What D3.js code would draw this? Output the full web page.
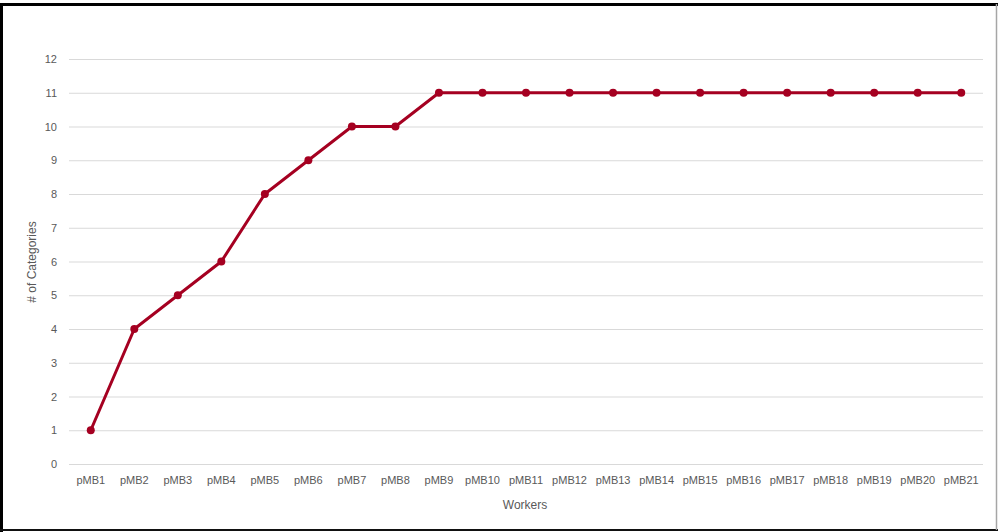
<!DOCTYPE html>
<html>
<head>
<meta charset="utf-8">
<script src="https://cdn.jsdelivr.net/npm/d3@7"></script>
<style>
  html, body { margin: 0; padding: 0; background: #fff; }
  svg { display: block; }
  text { font-family: "Liberation Sans", Arial, sans-serif; fill: #595959; }
</style>
</head>
<body>
<svg id="chart" width="998" height="532"></svg>
<script>
// Categories discovered per worker
const workers = ["pMB1","pMB2","pMB3","pMB4","pMB5","pMB6","pMB7","pMB8","pMB9","pMB10",
  "pMB11","pMB12","pMB13","pMB14","pMB15","pMB16","pMB17","pMB18","pMB19","pMB20","pMB21"];
const categoryCounts = [1,4,5,6,8,9,10,10,11,11,11,11,11,11,11,11,11,11,11,11,11];
const yTicks = [0,1,2,3,4,5,6,7,8,9,10,11,12];

const svg = d3.select("#chart");
const W = 998, H = 532;

// frame
svg.append("rect").attr("x", 0).attr("y", 0).attr("width", W).attr("height", H).attr("fill", "#fff");
svg.append("line").attr("x1", 0).attr("x2", W).attr("y1", 4.5).attr("y2", 4.5).attr("stroke", "#000").attr("stroke-width", 3);
svg.append("line").attr("x1", 1.5).attr("x2", 1.5).attr("y1", 3).attr("y2", H).attr("stroke", "#000").attr("stroke-width", 3);
svg.append("line").attr("x1", 0).attr("x2", W).attr("y1", 530).attr("y2", 530).attr("stroke", "#111").attr("stroke-width", 2);
svg.append("line").attr("x1", 996.5).attr("x2", 996.5).attr("y1", 4).attr("y2", 530).attr("stroke", "#a6a6a6").attr("stroke-width", 1.5);

const plotLeft = 69, plotRight = 983, plotTop = 59, plotBottom = 464;

const x = d3.scaleBand().domain(workers).range([plotLeft, plotRight]);
const y = d3.scaleLinear().domain([0, 12]).range([plotBottom, plotTop]);

// gridlines and y labels
const yAxis = d3.axisLeft(y).tickValues(yTicks).tickSize(-(plotRight - plotLeft)).tickPadding(12);
const gy = svg.append("g").attr("transform", `translate(${plotLeft},0)`).call(yAxis);
gy.select(".domain").remove();
gy.selectAll(".tick line").attr("stroke", "#d9d9d9").attr("stroke-width", 1);
gy.selectAll(".tick text").attr("font-size", 11).style("fill", "#595959")
  .attr("font-family", "Liberation Sans, Arial, sans-serif");

// x labels
const xAxis = d3.axisBottom(x).tickSize(0).tickPadding(12);
const gx = svg.append("g").attr("transform", `translate(0,${plotBottom})`).call(xAxis);
gx.select(".domain").remove();
gx.selectAll(".tick text").attr("font-size", 11).style("fill", "#595959")
  .attr("font-family", "Liberation Sans, Arial, sans-serif");

// axis titles
svg.append("text").attr("x", 525).attr("y", 509).attr("text-anchor", "middle")
  .attr("font-size", 12).text("Workers");
svg.append("text").attr("transform", `translate(36,262) rotate(-90)`).attr("text-anchor", "middle")
  .attr("font-size", 12).text("# of Categories");

// series
const cx = d => x(d.w) + x.bandwidth() / 2;
const data = workers.map((w, i) => ({ w, v: categoryCounts[i] }));
svg.append("path").datum(data)
  .attr("fill", "none").attr("stroke", "#a50021").attr("stroke-width", 3)
  .attr("stroke-linejoin", "round")
  .attr("d", d3.line().x(cx).y(d => y(d.v)));
svg.selectAll("circle.pt").data(data).join("circle")
  .attr("class", "pt").attr("cx", cx).attr("cy", d => y(d.v)).attr("r", 4)
  .attr("fill", "#a50021");
</script>
</body>
</html>
